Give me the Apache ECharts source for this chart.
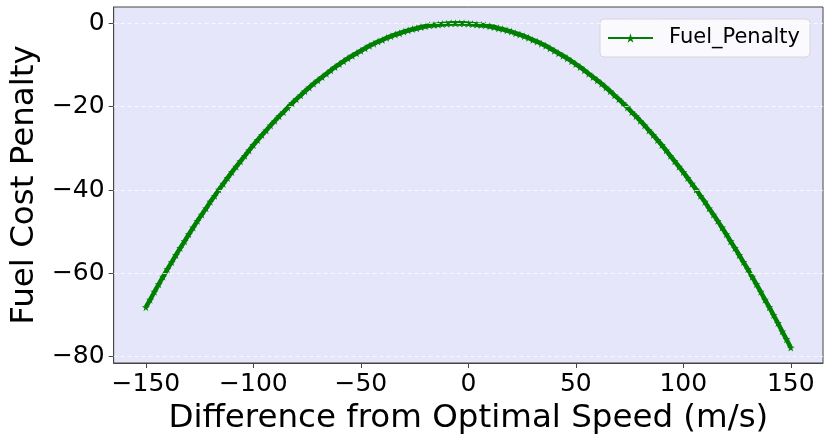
<!DOCTYPE html>
<html>
<head>
<meta charset="utf-8">
<script src="https://cdn.jsdelivr.net/npm/echarts@6/dist/echarts.min.js"></script>
<style>
html,body{margin:0;padding:0;background:#fff;}
#chart{width:830px;height:440px;}
</style>
</head>
<body>
<div id="chart"></div>
<script>
var seriesName = 'Fuel_Penalty';
var xValues = [-150,-148,-146,-144,-142,-140,-138,-136,-134,-132,-130,-128,-126,-124,-122,-120,-118,-116,-114,-112,-110,-108,-106,-104,-102,-100,-98,-96,-94,-92,-90,-88,-86,-84,-82,-80,-78,-76,-74,-72,-70,-68,-66,-64,-62,-60,-58,-56,-54,-52,-50,-48,-46,-44,-42,-40,-38,-36,-34,-32,-30,-28,-26,-24,-22,-20,-18,-16,-14,-12,-10,-8,-6,-4,-2,0,2,4,6,8,10,12,14,16,18,20,22,24,26,28,30,32,34,36,38,40,42,44,46,48,50,52,54,56,58,60,62,64,66,68,70,72,74,76,78,80,82,84,86,88,90,92,94,96,98,100,102,104,106,108,110,112,114,116,118,120,122,124,126,128,130,132,134,136,138,140,142,144,146,148,150];
var penaltyValues = [-68.1,-66.3,-64.4,-62.6,-60.8,-59.0,-57.3,-55.6,-53.9,-52.3,-50.6,-49.0,-47.4,-45.9,-44.4,-42.8,-41.4,-39.9,-38.5,-37.1,-35.7,-34.4,-33.1,-31.8,-30.5,-29.2,-28.0,-26.8,-25.7,-24.5,-23.4,-22.3,-21.3,-20.2,-19.2,-18.2,-17.3,-16.3,-15.4,-14.5,-13.7,-12.9,-12.1,-11.3,-10.5,-9.8,-9.1,-8.4,-7.8,-7.2,-6.6,-6.0,-5.4,-4.9,-4.4,-4.0,-3.5,-3.1,-2.7,-2.4,-2.0,-1.7,-1.4,-1.2,-0.9,-0.7,-0.5,-0.4,-0.3,-0.2,-0.1,0.0,0.0,0.0,0.0,-0.1,-0.2,-0.3,-0.4,-0.5,-0.7,-0.9,-1.2,-1.4,-1.7,-2.0,-2.4,-2.7,-3.1,-3.5,-4.0,-4.4,-4.9,-5.4,-6.0,-6.6,-7.2,-7.8,-8.4,-9.1,-9.8,-10.5,-11.3,-12.1,-12.9,-13.7,-14.5,-15.4,-16.3,-17.3,-18.2,-19.2,-20.2,-21.3,-22.3,-23.4,-24.5,-25.7,-26.8,-28.0,-29.2,-30.5,-31.8,-33.1,-34.4,-35.7,-37.1,-38.5,-39.9,-41.4,-42.8,-44.4,-45.9,-47.4,-49.0,-50.6,-52.3,-53.9,-55.6,-57.3,-59.0,-60.8,-62.6,-64.4,-66.3,-68.1,-70.0,-71.9,-73.9,-75.8,-77.8];
var xTicks = [-150,-100,-50,0,50,100,150];
var yTicks = [-80,-60,-40,-20,0];
var xTitle = 'Difference from Optimal Speed (m/s)';
var yTitle = 'Fuel Cost Penalty';

var points = xValues.map(function(x, i){ return [x, penaltyValues[i]]; });
var star = 'path://M50,0 L61,35 L98,35 L68,57 L79,91 L50,70 L21,91 L32,57 L2,35 L39,35 Z';
var FONT = 'DejaVu Sans';
function fmt(v){ return String(v).replace('-', '\u2212'); }

var chart = echarts.init(document.getElementById('chart'), null, {renderer:'canvas'});
chart.setOption({
  animation:false,
  backgroundColor:'#ffffff',
  textStyle:{fontFamily:FONT},
  grid:{left:107, right:7, top:7, bottom:77, show:true, backgroundColor:'#e6e6fa', borderColor:'#444', borderWidth:1, containLabel:false},
  legend:{
    data:[{name:seriesName, itemStyle:{color:'#008000'}, lineStyle:{width:2}}], left:600, top:19, orient:'vertical',
    itemWidth:45, itemHeight:12, itemGap:0, padding:[8,10,8,7],
    backgroundColor:'rgba(255,255,255,0.8)', borderColor:'#d6d6d6', borderWidth:1, borderRadius:4,
    textStyle:{fontFamily:FONT, fontSize:21, color:'#000', padding:[0,0,0,11], lineHeight:22}
  },
  xAxis:{
    type:'value', min:-165, max:165,
    name:xTitle, nameLocation:'middle', nameGap:37,
    nameTextStyle:{fontFamily:FONT, fontSize:32.5, color:'#000'},
    axisLine:{show:true, onZero:false, lineStyle:{color:'#444', width:1}},
    axisTick:{show:true, length:5, customValues:xTicks, lineStyle:{color:'#444'}},
    axisLabel:{show:true, customValues:xTicks, fontFamily:FONT, fontSize:25, color:'#000', margin:9, formatter:fmt},
    splitLine:{show:false}
  },
  yAxis:{
    type:'value', min:-81.5, max:3.9,
    name:yTitle, nameLocation:'middle', nameGap:43, nameRotate:90,
    nameTextStyle:{fontFamily:FONT, fontSize:32.5, color:'#000'},
    axisLine:{show:true, onZero:false, lineStyle:{color:'#444', width:1}},
    axisTick:{show:true, length:5, customValues:yTicks, lineStyle:{color:'#444'}},
    axisLabel:{show:true, customValues:yTicks, fontFamily:FONT, fontSize:25, color:'#000', margin:9, formatter:fmt},
    splitLine:{show:false}
  },
  series:[{
    name:seriesName, type:'line', data:points,
    symbol:star, symbolSize:8, showSymbol:true,
    lineStyle:{color:'#008000', width:4.5},
    itemStyle:{color:'#008000'},
    markLine:{
      silent:true, symbol:['none','none'], label:{show:false},
      lineStyle:{color:'#ffffff', type:[4,3], width:0.8},
      data:yTicks.map(function(v){ return {yAxis:v}; })
    },
    z:3
  }]
});
</script>
</body>
</html>
